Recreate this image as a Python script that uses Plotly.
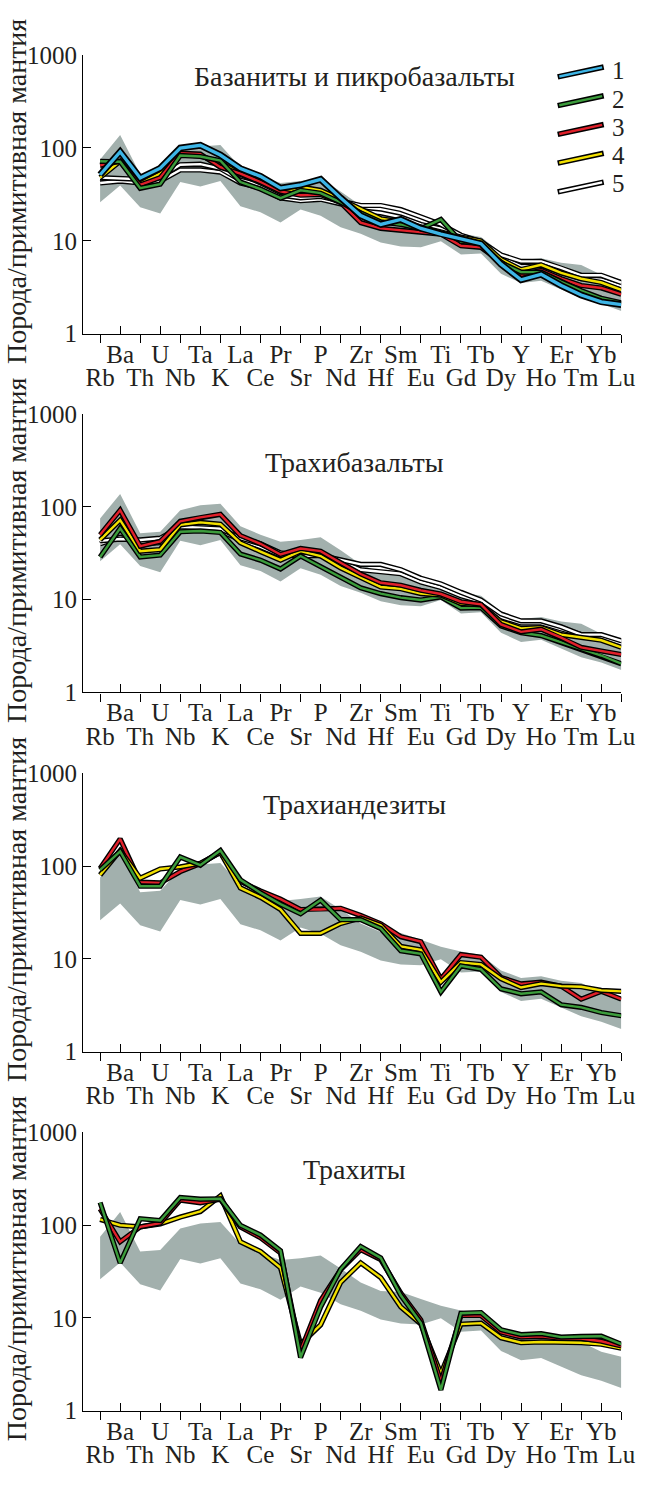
import plotly.graph_objects as go

# ---------------- data ----------------
ELEMENTS = ["Rb", "Ba", "Th", "U", "Nb", "Ta", "K", "La", "Ce", "Pr", "Sr", "P", "Nd",
            "Zr", "Hf", "Sm", "Eu", "Ti", "Gd", "Tb", "Dy", "Y", "Ho", "Er", "Tm", "Yb", "Lu"]

PANEL_TITLES = ["Базаниты и пикробазальты", "Трахибазальты", "Трахиандезиты", "Трахиты"]
Y_TITLE = "Порода/примитивная мантия"
Y_TICKS = [1, 10, 100, 1000]
LEGEND_LABELS = ["1", "2", "3", "4", "5"]

band_upper = [75, 138, 52, 54, 92, 104, 108, 62, 50, 42, 44, 47, 34, 24, 19.5, 19, 16, 13.5,
              12, 11, 7.5, 6.2, 6.5, 5.8, 5.5, 4.3, 3.8]
band_lower = [26, 39.5, 23, 19.7, 43, 38.5, 44, 23.5, 20.3, 15.7, 21.8, 18.6, 14, 11.9, 9.6,
              8.7, 8.5, 9.9, 7.1, 7.3, 4.4, 3.5, 3.7, 3.0, 2.4, 2.1, 1.75]

# panel 1 – basanites & picrobasalts
p1_g1 = [51.5, 91, 47.5, 60.5, 100, 107, 84, 60, 49.5, 37, 40, 46, 29, 18.7, 15, 17, 13.6, 11.8,
         10.5, 9.3, 5.6, 3.8, 4.35, 3.3, 2.6, 2.2, 2.05]
p1_g2 = [72, 71, 36.8, 40.8, 83, 81, 73, 43, 36, 28.8, 35, 32.6, 26, 20, 16, 15, 13.5, 17,
         9.8, 9.4, 5.8, 4.6, 4.6, 3.6, 2.9, 2.4, 2.15]
p1_g3 = [65, 72, 40, 48, 88, 86, 62, 53, 43, 34, 31, 31.5, 25.8, 15.7, 13.6, 13, 12.3, 11.8,
         8.85, 8.5, 5.9, 4.3, 4.8, 3.9, 3.3, 3.1, 2.65]
p1_g4 = [48, 72, 41, 53, 85, 82, 70, 52, 42, 33, 38, 35, 28, 22, 17.3, 16, 14, 12.5, 11, 10,
         6.3, 4.9, 5.5, 4.5, 3.9, 3.55, 2.95]
p1_g5a = [48, 47, 46, 49, 66, 67, 60, 45, 40, 31, 29, 30, 27, 24, 24, 21.7, 18.1, 15, 11.5, 9.8,
          7.05, 6.0, 6.0, 5.1, 4.25, 4.25, 3.55]
p1_g5b = [42, 44, 42, 44, 58, 58, 55, 42, 37, 29, 27, 28, 25, 21, 20, 18, 15, 13.5, 11, 9.5,
          6.6, 5.3, 5.4, 4.6, 3.9, 3.8, 3.25]

# panel 2 – trachybasalts
p2_g2 = [28.8, 58.8, 28.8, 30.2, 54, 55, 53, 31, 26.6, 21.4, 29.5, 22.6, 17.5, 13.4, 11.6, 10.5,
         9.9, 10.7, 8.1, 8.2, 5.2, 4.4, 4.1, 3.45, 2.94, 2.5, 2.04]
p2_g3 = [50, 92, 37.7, 42.5, 70, 77, 83, 49, 40, 30.7, 35.6, 33.3, 25, 18.9, 15.2, 14.3, 12.6,
         11.5, 9.5, 8.9, 5.4, 4.5, 4.8, 3.9, 3.06, 2.8, 2.56]
p2_g4 = [44, 72, 33.3, 34.7, 64, 68, 65, 41, 33, 26.6, 33.3, 29.5, 22, 17.5, 13.7, 13.1, 11.6,
         11.2, 9.1, 8.8, 5.8, 4.9, 5.0, 4.2, 3.9, 3.65, 3.06]
p2_g5a = [43, 45, 44, 46, 61, 60, 58, 46, 40, 32, 29.5, 30, 27, 24, 24, 21, 17, 14.8, 12, 9.9,
          7.0, 5.9, 5.9, 5.1, 4.2, 4.2, 3.6]
p2_g5b = [40, 47, 40, 41, 58, 57, 55, 44, 37, 30, 30, 30, 26, 21, 20, 19, 15.5, 13.5, 11, 9.5,
          6.5, 5.6, 5.6, 4.8, 4.2, 4.0, 3.3]

# panel 3 – trachyandesites
p3_g2 = [91, 144, 60.6, 60.6, 125, 102, 147, 71, 51.5, 38.8, 30.5, 43, 26.4, 26.4, 21.2, 12.2,
         11.3, 4.4, 8.4, 7.7, 4.75, 4.2, 4.4, 3.2, 3.0, 2.64, 2.43]
p3_g3 = [94, 196, 67, 65.7, 87, 106, 141, 68, 54, 44, 34, 34, 35, 29.3, 23.9, 17.3, 15.3, 6.06,
         11.1, 10.4, 6.3, 5.37, 5.6, 5.07, 3.67, 4.46, 3.67]
p3_g4 = [80, 147, 74, 93, 98, 107, 140, 58, 46, 34, 18.8, 18.8, 24, 27.5, 23, 13.6, 12.5, 5.6,
         9.1, 8.7, 6.1, 4.9, 5.4, 5.07, 5.0, 4.57, 4.46]

# panel 4 – trachytes
p4_g2 = [175, 39, 117, 112, 198, 190, 192, 99.5, 78, 53, 3.74, 13.1, 33.4, 58.8, 44.3, 17.5,
         8.8, 1.67, 11.2, 11.4, 7.45, 6.6, 6.76, 6.2, 6.3, 6.34, 5.2]
p4_g3 = [149, 66, 95.6, 105, 186, 174, 190, 95.6, 73, 50, 4.4, 15.4, 33, 54.2, 42.5, 18.5, 9.5,
         2.04, 10.6, 10.6, 7.0, 6.2, 6.34, 6.0, 6.0, 5.6, 4.97]
p4_g4 = [115, 99.6, 95.6, 103, 122, 140, 206, 66, 52, 34.7, 5.2, 8.4, 24.1, 39.2, 27.2, 13.1,
         8.6, 2.5, 8.55, 8.77, 6.1, 5.4, 5.5, 5.5, 5.4, 5.2, 4.7]

# ---------------- styles ----------------
W, H = 649, 1486
FONT = "'Liberation Serif', 'Times New Roman', Times, serif"
TXT = "#231f20"
BAND = "#a2b0ad"
COL = {1: "#3db5e6", 2: "#3c9c3c", 3: "#e0202a", 4: "#f2e000", 5: "#ffffff"}

X = list(range(len(ELEMENTS)))
PANEL_TOPS = [43, 408.5, 774.3, 1140]
PANEL_H = 283.5
AX_LEFT, AX_RIGHT = 85, 635
TITLE_OFFS = [22, 49, 32, 38]

panels = [
    [(5, p1_g5b), (5, p1_g5a), (4, p1_g4), (3, p1_g3), (2, p1_g2), (1, p1_g1)],
    [(5, p2_g5b), (5, p2_g5a), (2, p2_g2), (4, p2_g4), (3, p2_g3)],
    [(3, p3_g3), (4, p3_g4), (2, p3_g2)],
    [(4, p4_g4), (3, p4_g3), (2, p4_g2)],
]

fig = go.Figure()
layout = dict(width=W, height=H, margin=dict(l=0, r=0, t=0, b=0),
              paper_bgcolor="white", plot_bgcolor="white", showlegend=False,
              font=dict(family=FONT, color=TXT))
annotations = []
shapes = []

for i, series in enumerate(panels):
    n = i + 1
    xa = "x" if n == 1 else f"x{n}"
    xo = f"x{n + 4}"
    ya = "y" if n == 1 else f"y{n}"
    # reference field
    fig.add_trace(go.Scatter(x=X, y=band_lower, xaxis=xa, yaxis=ya, mode="lines",
                             line=dict(width=0, color=BAND), hoverinfo="skip"))
    fig.add_trace(go.Scatter(x=X, y=band_upper, xaxis=xa, yaxis=ya, mode="lines",
                             line=dict(width=0, color=BAND), fill="tonexty",
                             fillcolor=BAND, hoverinfo="skip"))
    # invisible copy so that the overlaid (upper-row) axis is drawn
    fig.add_trace(go.Scatter(x=X, y=band_lower, xaxis=xo, yaxis=ya, mode="lines",
                             line=dict(width=0, color=BAND), opacity=0, hoverinfo="skip"))
    for grp, vals in series:
        wb, wc = (6.8, 3.3) if grp == 1 else (5.2, 2.4)
        fig.add_trace(go.Scatter(x=X, y=vals, xaxis=xa, yaxis=ya, mode="lines",
                                 line=dict(color="black", width=wb), hoverinfo="skip"))
        fig.add_trace(go.Scatter(x=X, y=vals, xaxis=xa, yaxis=ya, mode="lines",
                                 line=dict(color=COL[grp], width=wc)))

    top = PANEL_TOPS[i]
    dom_y = [1 - (top + PANEL_H) / H, 1 - top / H]
    dom_x = [AX_LEFT / W, AX_RIGHT / W]
    xr = [-0.845, len(ELEMENTS) - 1]
    tickfont = dict(family=FONT, size=25, color=TXT)
    layout["xaxis" if n == 1 else f"xaxis{n}"] = dict(
        domain=dom_x, anchor=ya, range=xr, showgrid=False, zeroline=False,
        showline=True, linecolor="black", linewidth=1.2,
        tickmode="array", tickvals=X[0::2], ticktext=ELEMENTS[0::2],
        ticks="outside", ticklen=8, tickwidth=1.2, tickcolor="black",
        tickangle=0, tickfont=tickfont, ticklabelstandoff=13,
        ticklabeloverflow="allow")
    layout[f"xaxis{n + 4}"] = dict(
        domain=dom_x, anchor=ya, overlaying=xa, range=xr, showgrid=False,
        zeroline=False, showline=False,
        tickmode="array", tickvals=X[1::2], ticktext=ELEMENTS[1::2],
        ticks="inside", ticklen=8, tickwidth=1.2, tickcolor="black",
        tickangle=0, tickfont=tickfont, ticklabelstandoff=3,
        ticklabeloverflow="allow")
    layout["yaxis" if n == 1 else f"yaxis{n}"] = dict(
        domain=dom_y, anchor=xa, type="log", range=[0, 3], showgrid=False,
        zeroline=False, showline=True, linecolor="black", linewidth=1.2,
        tickmode="array", tickvals=Y_TICKS, ticktext=[str(v) for v in Y_TICKS],
        ticks="inside", ticklen=8, tickwidth=1.2, tickcolor="black",
        tickfont=dict(family=FONT, size=25, color=TXT))
    annotations.append(dict(text=PANEL_TITLES[i], xref="paper", yref="paper",
                            x=362 / W, y=1 - (top + TITLE_OFFS[i]) / H,
                            xanchor="center", yanchor="middle", showarrow=False,
                            font=dict(family=FONT, size=28, color=TXT)))
    annotations.append(dict(text=Y_TITLE, xref="paper", yref="paper",
                            x=17 / W, y=1 - (top + PANEL_H / 2 - 3) / H, textangle=-90,
                            xanchor="center", yanchor="middle", showarrow=False,
                            font=dict(family=FONT, size=28, color=TXT)))

# legend (panel 1): slanted double-line swatches
for k, lab in enumerate(LEGEND_LABELS):
    grp = k + 1
    y0 = 65 + 29.3 * k
    y1 = 55 + 29.3 * k
    for colr, wd, inset in (("black", 5.5, 0.0), (COL[grp], 2.4, 1.6)):
        fx = inset / 47.0
        xa0 = 570 + 47 * fx
        xa1 = 617 - 47 * fx
        ya0 = y0 + (y1 - y0) * fx
        ya1 = y1 - (y1 - y0) * fx
        shapes.append(dict(type="line", xref="paper", yref="paper",
                           x0=xa0 / W, x1=xa1 / W, y0=1 - ya0 / H, y1=1 - ya1 / H,
                           line=dict(color=colr, width=wd)))
    annotations.append(dict(text=lab, xref="paper", yref="paper", x=623 / W,
                            y=1 - (59 + 28.6 * k) / H, xanchor="left", yanchor="middle",
                            showarrow=False, font=dict(family=FONT, size=25, color=TXT)))

layout["annotations"] = annotations
layout["shapes"] = shapes
fig.update_layout(**layout)
fig.write_html("out.html")
